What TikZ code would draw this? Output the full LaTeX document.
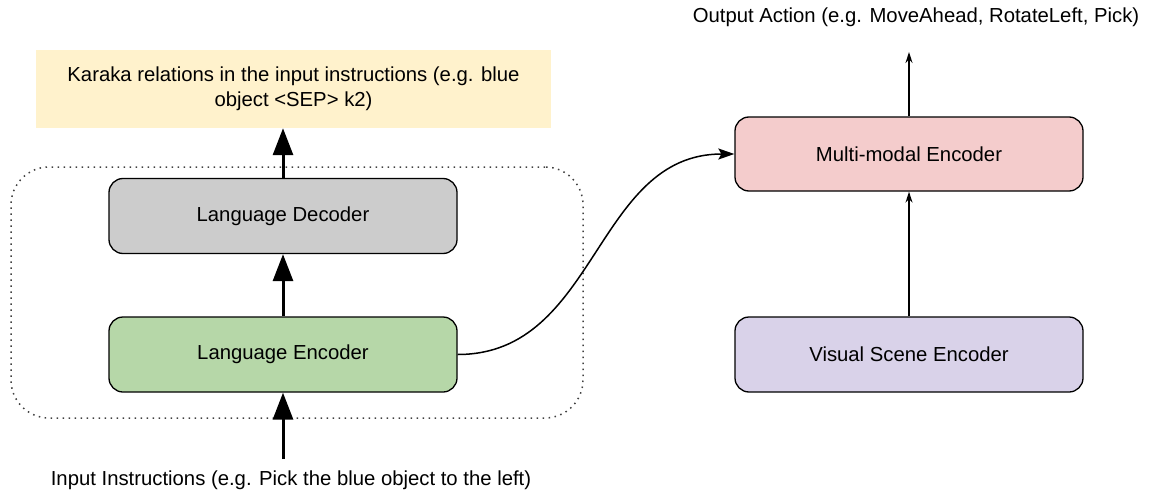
\documentclass[tikz,border=0pt]{standalone}
\usepackage{fontspec}
\setmainfont{Liberation Sans}
\usetikzlibrary{arrows.meta}
\definecolor{cyel}{HTML}{FFF2CC}
\definecolor{cgray}{HTML}{CCCCCC}
\definecolor{cgreen}{HTML}{B6D7A8}
\definecolor{cpink}{HTML}{F4CCCC}
\definecolor{cpurple}{HTML}{D9D2E9}
\begin{document}
\begin{tikzpicture}[x=1pt,y=-1pt,
  txt/.style={font=\fontsize{20.3}{25}\selectfont},
  box/.style={txt, draw=black, line width=1.3pt, rounded corners=14pt,
    minimum width=348pt, minimum height=75pt, inner sep=0pt},
  lbl/.style={txt, inner sep=0pt},
  bigarrow/.style={line width=3pt, -{Triangle[length=27pt,width=20pt]}},
  smallarrow/.style={line width=1.3pt, -{Stealth[length=11pt,width=7pt]}},
  curvearrow/.style={line width=1.5pt, -{Stealth[length=16pt,width=11pt,inset=3pt]}}]
\useasboundingbox (0,0) rectangle (1150,495);

% group frame
\node[draw=black!75, line width=1.5pt, dash pattern=on 1.5pt off 4.5pt,
  rounded corners=38pt, minimum width=572pt, minimum height=251pt, inner sep=0pt]
  (grp) at (297,292.5) {};

% nodes
\node[txt, fill=cyel, minimum width=515pt, minimum height=78pt, inner sep=0pt, align=center]
  (yel) at (293.5,89) {Karaka relations in the input instructions (e.g. blue\\object <SEP> k2)};
\node[box, fill=cgray] (dec) at (283,216) {Language Decoder};
\node[box, fill=cgreen] (enc) at (283,354.5) {Language Encoder};
\node[box, fill=cpink, minimum height=74pt] (mm) at (909,154) {Multi-modal Encoder};
\node[box, fill=cpurple] (vis) at (909,354.5) {Visual Scene Encoder};

\node[lbl] (out) at (916,17) {Output Action (e.g. MoveAhead, RotateLeft, Pick)};
\node[lbl] (inp) at (291,480) {Input Instructions (e.g. Pick the blue object to the left)};

\coordinate (inptop) at (283,459);
\coordinate (outbot) at (909,52);

% connectors
\draw[bigarrow] (inptop) -- (enc.south);
\draw[bigarrow] (enc.north) -- (dec.south);
\draw[bigarrow] (dec.north) -- (dec.north |- yel.south);
\draw[smallarrow] (vis.north) -- (mm.south);
\draw[smallarrow] (mm.north) -- (outbot);
\draw[curvearrow] (enc.east) .. controls +(140,0) and +(-140,0) .. (mm.west);
\end{tikzpicture}
\end{document}
